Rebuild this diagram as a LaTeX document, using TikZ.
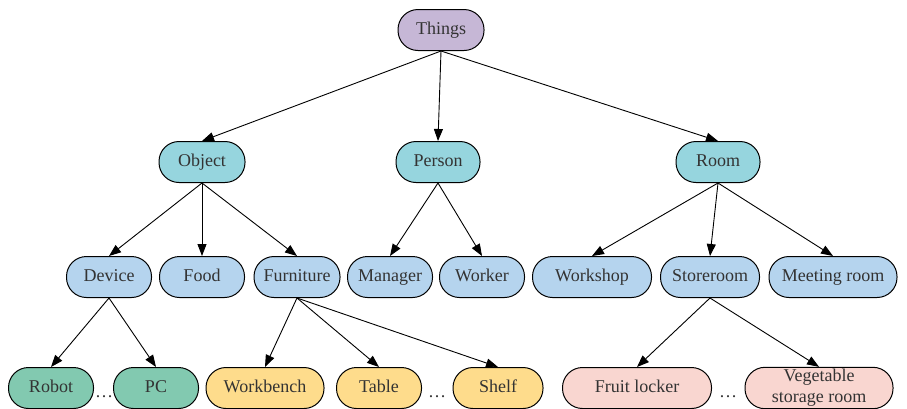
\documentclass[tikz,border=0pt]{standalone}
\usepackage{fontspec}
\setmainfont{Liberation Serif}
\usetikzlibrary{arrows.meta}

\definecolor{rootfill}{HTML}{C6B7D6}
\definecolor{topfill}{HTML}{96D5DE}
\definecolor{midfill}{HTML}{B5D4EE}
\definecolor{devfill}{HTML}{82C9B0}
\definecolor{furnfill}{HTML}{FEDC8C}
\definecolor{roomfill}{HTML}{F9D6D0}

\begin{document}
\begin{tikzpicture}[x=1pt,y=-1pt,
    every node/.style={draw,rounded corners=20pt,minimum height=41pt,minimum width=85pt,
      inner sep=2pt,line width=1pt,text=black!80,font=\fontsize{18}{21}\selectfont,
      execute at begin node={\vphantom{Ag}}},
    gap/.style={draw=none,minimum width=0pt,minimum height=0pt,inner sep=0pt},
    edge/.style={-{Triangle[length=12pt,width=9pt]},line width=0.9pt}]
  \useasboundingbox (0,0) rectangle (907,408);
  % level 0 and 1
  \path (441,30) node[fill=rootfill,minimum width=86pt] (things) {Things};
  \path (202,162) node[fill=topfill,minimum width=86pt] (object) {Object};
  \path (438,162) node[fill=topfill,minimum width=84pt] (person) {Person};
  \path (718,162) node[fill=topfill,minimum width=84pt] (room) {Room};
  % level 2
  \path (109,277) node[fill=midfill] (device) {Device};
  \path (202,277) node[fill=midfill] (food) {Food};
  \path (297,277) node[fill=midfill,minimum width=86pt] (furniture) {Furniture};
  \path (390,277) node[fill=midfill] (manager) {Manager};
  \path (482,277) node[fill=midfill] (worker) {Worker};
  \path (592,277) node[fill=midfill,minimum width=119pt] (workshop) {Workshop};
  \path (710,277) node[fill=midfill,minimum width=99pt] (storeroom) {Storeroom};
  \path (833,277) node[fill=midfill,minimum width=128pt] (meeting) {Meeting room};
  % level 3
  \path (51,388) node[fill=devfill] (robot) {Robot};
  \path (156,388) node[fill=devfill] (pc) {PC};
  \path (265,388) node[fill=furnfill,minimum width=118pt] (workbench) {Workbench};
  \path (379,388) node[fill=furnfill] (table) {Table};
  \path (498,388) node[fill=furnfill,minimum width=90pt] (shelf) {Shelf};
  \path (637,388) node[fill=roomfill,minimum width=149pt] (fruit) {Fruit locker};
  \path (819,388) node[fill=roomfill,minimum width=148pt,align=center] (vegetable) {Vegetable\\storage room};
  \path (104,393) node[gap] (dotsa) {\dots};
  \path (437,393) node[gap] (dotsb) {\dots};
  \path (728,393) node[gap] (dotsc) {\dots};
  \foreach \a/\b in {things/object,things/person,things/room,
      object/device,object/food,object/furniture,person/manager,person/worker,
      room/workshop,room/storeroom,room/meeting,device/robot,device/pc,
      furniture/workbench,furniture/table,furniture/shelf,
      storeroom/fruit,storeroom/vegetable}
    \draw[edge] (\a.south) -- (\b.north);
\end{tikzpicture}
\end{document}
